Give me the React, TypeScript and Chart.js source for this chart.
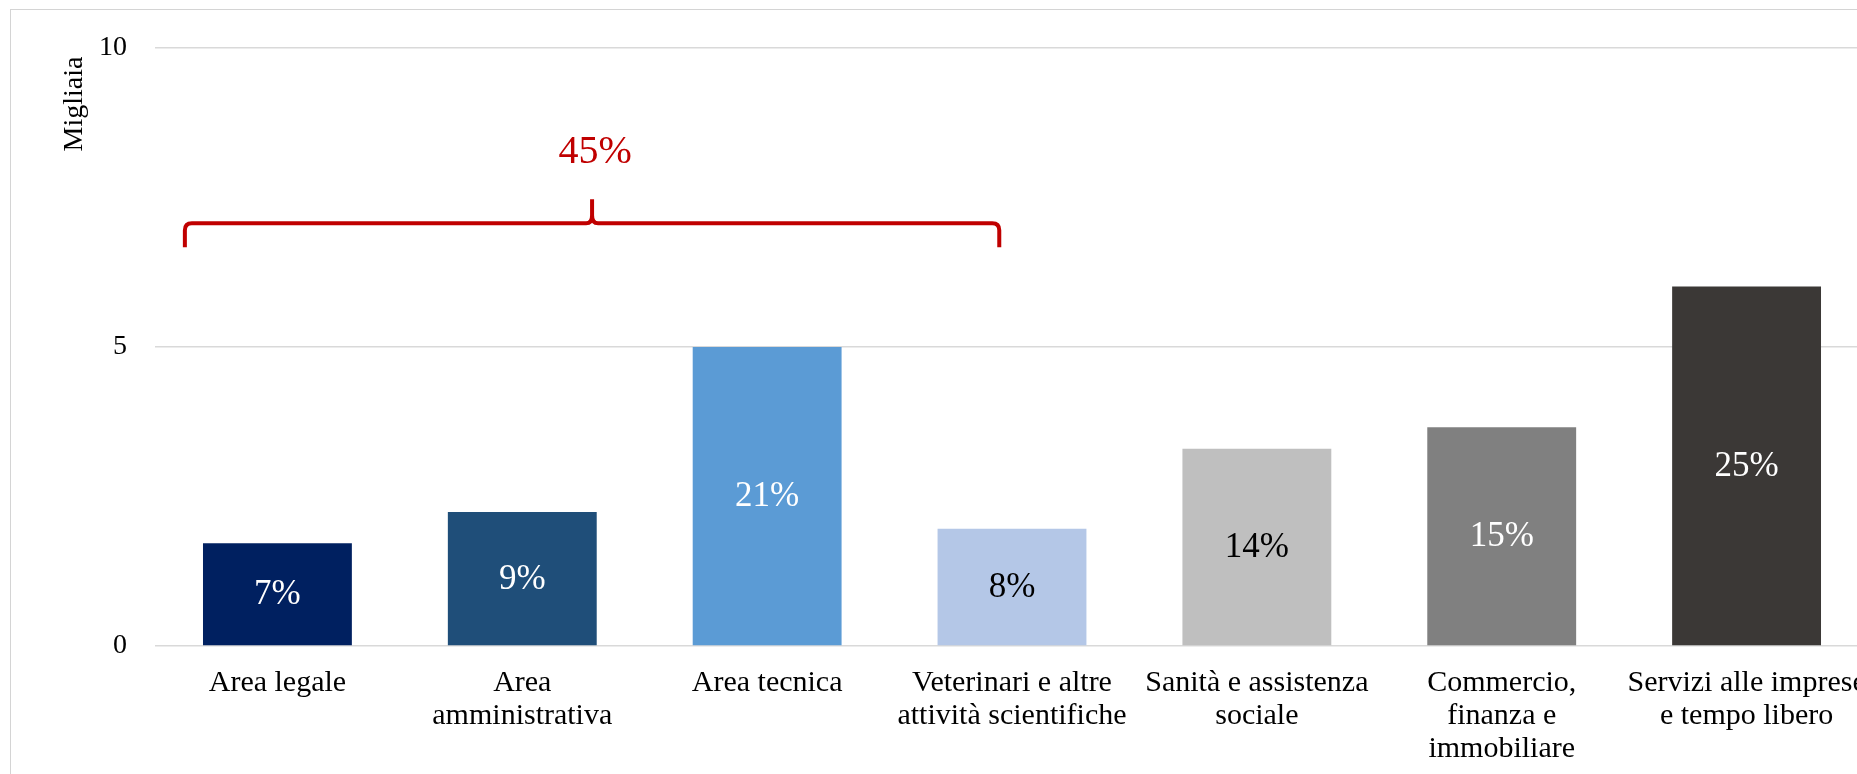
import React, { useEffect, useRef } from "react";
import { Chart, registerables } from "chart.js";

Chart.register(...registerables);

// ---- data ----
const CATEGORIES: string[][] = [
  ["Area legale"],
  ["Area", "amministrativa"],
  ["Area tecnica"],
  ["Veterinari e altre", "attività scientifiche"],
  ["Sanità e assistenza", "sociale"],
  ["Commercio,", "finanza e", "immobiliare"],
  ["Servizi alle imprese", "e tempo libero"],
];
const VALUES: number[] = [1.72, 2.24, 5.0, 1.96, 3.3, 3.66, 6.01];
const SHARE_LABELS: string[] = ["7%", "9%", "21%", "8%", "14%", "15%", "25%"];
const Y_MIN = 0;
const Y_MAX = 10;
const Y_STEP = 5;
const Y_TITLE = "Migliaia";
const GROUP_LABEL = "45%";
// bracket extent in category-index units and height in data units
const BRACKET_FROM = -0.378;
const BRACKET_TO = 2.948;
const BRACKET_Y = 7.07;
const GROUP_LABEL_Y = 8.25;

// ---- styles ----
const BAR_COLORS = ["#002060", "#1f4e79", "#5b9bd5", "#b4c7e7", "#bfbfbf", "#808080", "#3b3836"];
const LABEL_COLORS = ["#ffffff", "#ffffff", "#ffffff", "#000000", "#000000", "#ffffff", "#ffffff"];
const FONT = "'Liberation Serif', 'Times New Roman', serif";
const RED = "#c00000";

const overlayPlugin = {
  id: "overlay",
  afterDatasetsDraw(chart: any) {
    const ctx = chart.ctx as CanvasRenderingContext2D;
    const meta = chart.getDatasetMeta(0);
    const xs = chart.scales.x;
    const ys = chart.scales.y;
    const area = chart.chartArea;

    // bar share labels
    ctx.save();
    ctx.font = `35px ${FONT}`;
    ctx.textAlign = "center";
    ctx.textBaseline = "middle";
    meta.data.forEach((bar: any, i: number) => {
      ctx.fillStyle = LABEL_COLORS[i];
      ctx.fillText(SHARE_LABELS[i], bar.x, (bar.y + bar.base) / 2 + 1);
    });
    ctx.restore();

    // y-axis title
    ctx.save();
    ctx.font = `28px ${FONT}`;
    ctx.fillStyle = "#000";
    ctx.textAlign = "center";
    ctx.textBaseline = "alphabetic";
    ctx.translate(area.left - 73, area.top + 56);
    ctx.rotate(-Math.PI / 2);
    ctx.fillText(Y_TITLE, 0, 0);
    ctx.restore();

    // bracket
    const x0 = xs.getPixelForValue(BRACKET_FROM);
    const x1 = xs.getPixelForValue(BRACKET_TO);
    const xm = (x0 + x1) / 2;
    const yb = ys.getPixelForValue(BRACKET_Y);
    const unit = Math.abs(ys.getPixelForValue(1) - ys.getPixelForValue(0));
    const drop = unit * 0.4;
    const rise = unit * 0.4;
    const r = 7;
    ctx.save();
    ctx.strokeStyle = RED;
    ctx.lineWidth = 4;
    ctx.lineJoin = "round";
    ctx.beginPath();
    ctx.moveTo(x0, yb + drop);
    ctx.lineTo(x0, yb + r);
    ctx.quadraticCurveTo(x0, yb, x0 + r, yb);
    ctx.lineTo(xm - 6, yb);
    ctx.quadraticCurveTo(xm, yb, xm, yb - 8);
    ctx.lineTo(xm, yb - rise);
    ctx.moveTo(xm, yb - 8);
    ctx.quadraticCurveTo(xm, yb, xm + 6, yb);
    ctx.lineTo(x1 - r, yb);
    ctx.quadraticCurveTo(x1, yb, x1, yb + r);
    ctx.lineTo(x1, yb + drop);
    ctx.stroke();
    ctx.restore();

    // group label
    ctx.save();
    ctx.font = `40px ${FONT}`;
    ctx.fillStyle = RED;
    ctx.textAlign = "center";
    ctx.textBaseline = "middle";
    ctx.fillText(GROUP_LABEL, xm + 3, ys.getPixelForValue(GROUP_LABEL_Y));
    ctx.restore();
  },
};

export default function App() {
  const ref = useRef<HTMLCanvasElement | null>(null);

  useEffect(() => {
    if (!ref.current) return;
    const chart = new Chart(ref.current, {
      type: "bar",
      data: {
        labels: CATEGORIES,
        datasets: [
          {
            data: VALUES,
            backgroundColor: BAR_COLORS,
            borderWidth: 0,
            categoryPercentage: 1,
            barPercentage: 0.608,
          },
        ],
      },
      options: {
        responsive: false,
        animation: false,
        devicePixelRatio: 1,
        layout: { padding: { top: 48, left: 0, right: 31, bottom: 0 } },
        plugins: {
          legend: { display: false },
          tooltip: { enabled: false },
          title: { display: false },
        },
        scales: {
          x: {
            grid: { display: false, drawTicks: false },
            border: { display: false },
            ticks: {
              autoSkip: false,
              maxRotation: 0,
              minRotation: 0,
              padding: 21,
              color: "#000",
              font: { family: FONT, size: 30, lineHeight: 1.1 },
            },
            afterFit: (scale: any) => {
              scale.height = 154;
            },
          },
          y: {
            min: Y_MIN,
            max: Y_MAX,
            ticks: {
              stepSize: Y_STEP,
              padding: 28,
              color: "#000",
              font: { family: FONT, size: 28 },
            },
            grid: { color: "#d9d9d9", lineWidth: 1.6, drawTicks: false },
            border: { display: false },
            afterFit: (scale: any) => {
              scale.width = 155;
            },
          },
        },
      },
      plugins: [overlayPlugin],
    });
    return () => chart.destroy();
  }, []);

  return (
    <div
      style={{
        position: "absolute",
        left: 0,
        top: 0,
        width: 1857,
        height: 774,
        overflow: "hidden",
        background: "#fff",
      }}
    >
      <div
        style={{
          position: "absolute",
          left: 10,
          top: 9,
          width: 2000,
          height: 2000,
          borderLeft: "1px solid #d4d4d4",
          borderTop: "1px solid #d4d4d4",
        }}
      />
      <canvas
        ref={ref}
        width={1900}
        height={800}
        style={{ position: "absolute", left: 0, top: 0, width: 1900, height: 800 }}
      />
    </div>
  );
}
